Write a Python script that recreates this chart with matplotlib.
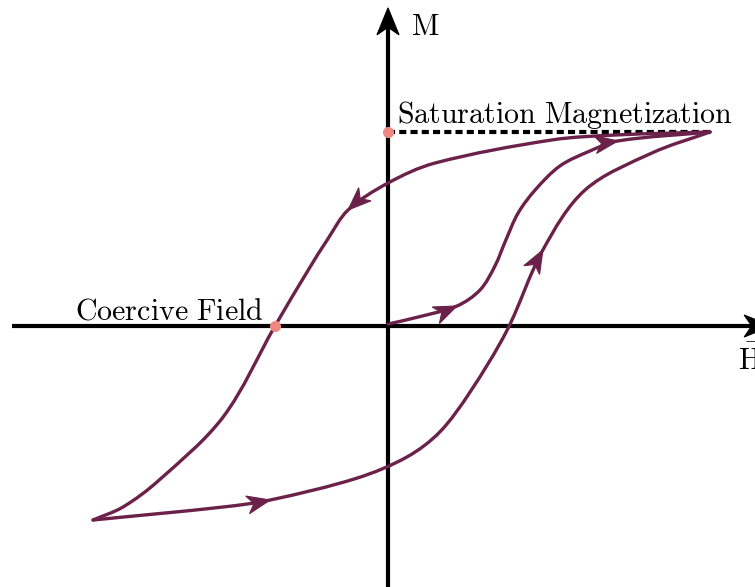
import numpy as np
import matplotlib
matplotlib.use("Agg")
import matplotlib.pyplot as plt
from matplotlib.path import Path
from matplotlib.patches import PathPatch, Polygon

plt.rcParams["mathtext.fontset"] = "cm"

# Hysteresis loop (H normalised to the saturating field, M to saturation)
init_H = [0.0, 0.093, 0.214, 0.286, 0.332, 0.366, 0.404, 0.457, 0.534, 0.627, 0.714, 1.0]
init_M = [0.01, 0.046, 0.103, 0.186, 0.309, 0.443, 0.582, 0.701, 0.825, 0.902, 0.954, 1.0]

desc_H = [1.0, 0.714, 0.509, 0.146, 0.0, -0.124, -0.189, -0.242, -0.351, -0.512,
          -0.714, -0.823, -0.916]
desc_M = [1.0, 0.985, 0.959, 0.840, 0.737, 0.598, 0.443, 0.304, 0.0, -0.469,
          -0.799, -0.933, -1.0]

asc_H = [-0.916, -0.512, -0.366, -0.096, 0.059, 0.161, 0.255, 0.370, 0.481, 0.612, 0.820, 1.0]
asc_M = [-1.0, -0.933, -0.897, -0.784, -0.675, -0.546, -0.340, -0.021, 0.392, 0.701, 0.892, 1.0]

# index of the point on each branch where a direction arrow sits
init_arrows = [2, 10]
desc_arrows = [5]
asc_arrows = [2, 8]

M_sat = 1.0
H_coercive = -0.351

curve_color = "#6B2149"
dot_color = "#F08882"

fig = plt.figure(figsize=(7.55, 5.87), dpi=100)
ax = fig.add_axes([0, 0, 1, 1])
ax.set_xlim(-388 / 322, (755 - 388) / 322)
ax.set_ylim(-(587 - 326) / 194, 326 / 194)
ax.axis("off")


def smooth_path(xs, ys):
    """Chord-length Hermite spline through the points, as cubic Bezier segments."""
    P = ax.transData.transform(np.column_stack([xs, ys]).astype(float))
    n = len(P)
    seg = np.hypot(*np.diff(P, axis=0).T)
    tang = np.zeros_like(P)
    for i in range(n):
        if i == 0:
            tang[i] = (P[1] - P[0]) / seg[0]
        elif i == n - 1:
            tang[i] = (P[-1] - P[-2]) / seg[-1]
        else:
            tang[i] = (P[i + 1] - P[i - 1]) / (seg[i - 1] + seg[i])
    verts = [P[0]]
    codes = [Path.MOVETO]
    for i in range(n - 1):
        h = seg[i]
        verts += [P[i] + tang[i] * h / 3, P[i + 1] - tang[i + 1] * h / 3, P[i + 1]]
        codes += [Path.CURVE4] * 3
    verts = ax.transData.inverted().transform(np.array(verts))
    return Path(verts, codes)


def stealth(tip, direction_disp, length, width, color, z=5):
    """Arrowhead with tip at a data point, sized in pixels."""
    t = ax.transData.transform(tip)
    d = np.asarray(direction_disp, float)
    d = d / np.hypot(*d)
    nrm = np.array([-d[1], d[0]])
    pts = [t,
           t - length * d + width / 2 * nrm,
           t - 0.72 * length * d,
           t - length * d - width / 2 * nrm]
    pts_data = ax.transData.inverted().transform(np.array(pts))
    ax.add_patch(Polygon(pts_data, closed=True, facecolor=color,
                         edgecolor=color, lw=0.8, zorder=z, joinstyle="miter"))


def draw_branch(xs, ys, arrow_idx):
    ax.add_patch(PathPatch(smooth_path(xs, ys), facecolor="none",
                           edgecolor=curve_color, lw=2.4, zorder=3,
                           capstyle="round", joinstyle="round"))
    disp = ax.transData.transform(np.column_stack([xs, ys]))
    for i in arrow_idx:
        stealth((xs[i], ys[i]), disp[i + 1] - disp[i - 1], 23, 18, curve_color)


# coordinate axes
x_lo, x_hi = -1.168, 1.19
y_lo, y_hi = -1.40, 1.64
ax.plot([x_lo, x_hi - 0.05], [0, 0], color="black", lw=3.0, zorder=2,
        solid_capstyle="butt")
ax.plot([0, 0], [y_lo, y_hi - 0.08], color="black", lw=3.0, zorder=2,
        solid_capstyle="butt")
stealth((x_hi, 0), (1, 0), 27, 22, "black", z=2)
stealth((0, y_hi), (0, 1), 27, 22, "black", z=2)

# saturation level
ax.plot([0, 1.0], [M_sat, M_sat], color="black", lw=3.0, dashes=[1.7, 1.0],
        zorder=2, dash_capstyle="butt")

draw_branch(init_H, init_M, init_arrows)
draw_branch(desc_H, desc_M, desc_arrows)
draw_branch(asc_H, asc_M, asc_arrows)

ax.plot([0, H_coercive], [M_sat, 0], linestyle="none", marker="o",
        markersize=7, color=dot_color, zorder=6)

fs = 21.6
ax.text(0.028, 1.046, r"$\mathrm{Saturation\ Magnetization}$", fontsize=fs,
        ha="left", va="baseline")
ax.text(0.071, 1.50, r"$\mathrm{M}$", fontsize=fs, ha="left", va="baseline")
ax.text(-0.388, 0.031, r"$\mathrm{Coercive\ Field}$", fontsize=fs,
        ha="right", va="baseline")
ax.text(1.087, -0.227, r"$\vec{\mathrm{H}}$", fontsize=fs, ha="left",
        va="baseline")

fig.savefig("out.png", dpi=100)
